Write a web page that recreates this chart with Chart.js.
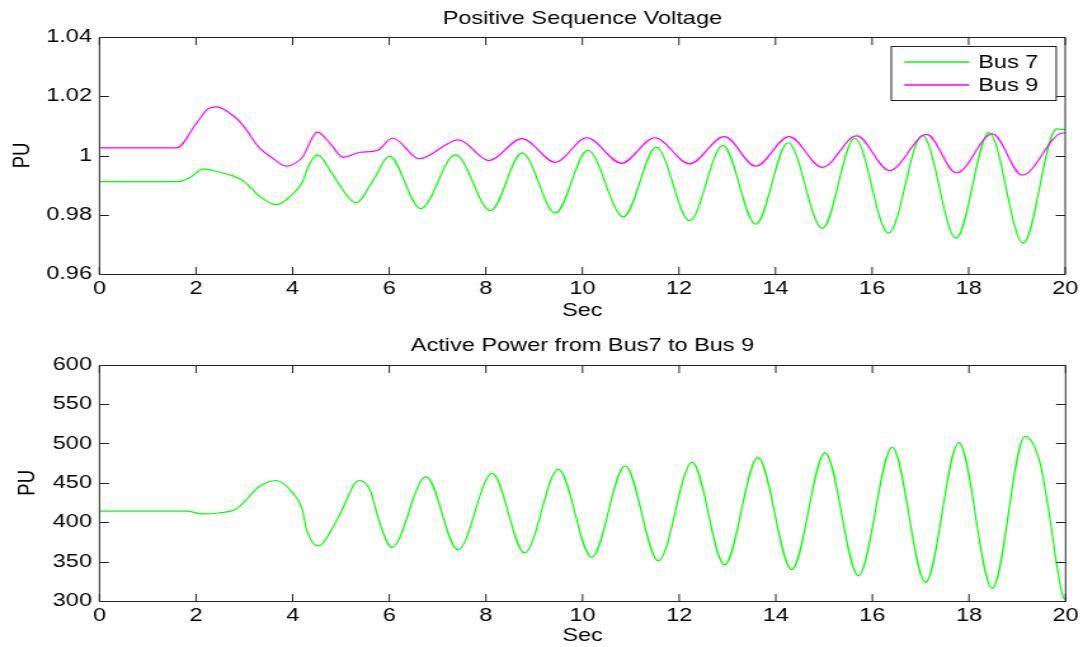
<!DOCTYPE html>
<html>
<head>
<meta charset="utf-8">
<title>Positive Sequence Voltage / Active Power</title>
<script src="https://cdn.jsdelivr.net/npm/chart.js@4.4.1/dist/chart.umd.min.js"></script>
<style>
  html, body { margin: 0; padding: 0; background: #fff; overflow: hidden; }
  #wrap { position: relative; width: 1083px; height: 647px; }
  #wrap canvas { position: absolute; left: 0; }
</style>
</head>
<body>
<div id="wrap">
  <canvas id="voltChart"></canvas>
  <canvas id="powerChart"></canvas>
</div>
<script>
// ----- data (time in s) -----
const secTicks   = [0, 2, 4, 6, 8, 10, 12, 14, 16, 18, 20];
const voltTicks  = [0.96, 0.98, 1, 1.02, 1.04];
const powerTicks = [300, 350, 400, 450, 500, 550, 600];

// Bus 7 voltage (green)
const bus7Time = [0, 1.63, 1.9, 2.15, 2.45, 2.75, 3.0, 3.3, 3.66, 4.0, 4.2, 4.35, 4.52, 4.8, 5.0, 5.31, 5.7, 6.0,
                  6.65, 7.37, 8.1, 8.75, 9.44, 10.11, 10.85, 11.53, 12.22, 12.91, 13.59, 14.26, 14.97, 15.64,
                  16.34, 17.04, 17.74, 18.42, 19.13, 19.82, 20];
const bus7Volt = [0.9912, 0.9912, 0.9928, 0.9955, 0.9945, 0.9932, 0.9912, 0.9864, 0.9834, 0.987, 0.991, 0.9972, 1.0002, 0.9943, 0.9893, 0.984, 0.9926, 0.9998,
                  0.9821, 1.0002, 0.9814, 1.0009, 0.9806, 1.0017, 0.9793, 1.0028, 0.978, 1.0034, 0.9768, 1.0043, 0.9754, 1.0059,
                  0.9738, 1.0068, 0.9721, 1.0077, 0.9704, 1.009, 1.0087];

// Bus 9 voltage (magenta)
const bus9Time = [0, 1.6, 2.0, 2.25, 2.43, 2.8, 3.0, 3.3, 3.6, 3.87, 4.2, 4.51, 4.8, 5.04, 5.4, 5.75, 6.07, 6.62,
                  7.44, 8.06, 8.75, 9.44, 10.09, 10.81, 11.5, 12.22, 12.94, 13.59, 14.28, 14.97, 15.68, 16.36,
                  17.13, 17.75, 18.49, 19.11, 19.95, 20];
const bus9Volt = [1.0026, 1.0026, 1.0107, 1.0158, 1.0164, 1.013, 1.0096, 1.0028, 0.9989, 0.9964, 0.9994, 1.0079, 1.0036, 0.9994, 1.0011, 1.0017, 1.0059, 0.9989,
                  1.0053, 0.9983, 1.0057, 0.9977, 1.006, 0.9974, 1.006, 0.9972, 1.0064, 0.9964, 1.0064, 0.996, 1.0066, 0.9949,
                  1.0071, 0.9941, 1.0073, 0.9934, 1.0076, 1.0076];

// Active power Bus7 -> Bus 9 (green)
const powerTime = [0, 1.8, 2.15, 2.5, 2.8, 3.0, 3.3, 3.66, 4.0, 4.2, 4.28, 4.54, 4.8, 5.0, 5.37, 5.6, 5.8, 6.05,
                   6.76, 7.42, 8.13, 8.8, 9.5, 10.19, 10.88, 11.57, 12.27, 12.94, 13.63, 14.33, 15.02, 15.71,
                   16.41, 17.1, 17.79, 18.48, 19.16, 19.47, 19.67, 19.81, 19.95, 20];
const powerVal  = [414, 414, 410.5, 412, 416, 426, 445, 453, 437, 416, 392, 370, 390, 413, 453, 441, 399, 368,
                   458, 365, 462, 361, 467, 355.5, 471.5, 351, 476, 346, 482, 340, 488, 332,
                   495, 324, 501, 316, 509, 475, 407, 348, 305, 302];

// ----- layout helpers -----
// the original figure is stretched sideways, so draw narrow and widen the canvas with css
const SX = 1.27;
const W = Math.round(1083 / SX);
const px = (v) => v / SX;          // page px (horizontal) -> canvas px
const FONT = 18.5;
const TL = 7.5;                    // inner tick length

Chart.defaults.font.family = '"Liberation Sans", Arial, Helvetica, sans-serif';
Chart.defaults.font.size = FONT;
Chart.defaults.color = '#000';

function setupCanvas(id, top, h) {
  const c = document.getElementById(id);
  c.width = W;
  c.height = h;
  c.style.top = top + 'px';
  c.style.width = '1083px';
  c.style.height = h + 'px';
  return c;
}

const toXY = (xs, ys) => xs.map((x, i) => ({ x, y: ys[i] }));

// matlab style box + inner ticks on all four sides
const frame = {
  id: 'frame',
  afterDraw(chart) {
    const { ctx, chartArea: a, scales } = chart;
    const top = Math.round(a.top) + 0.5;
    const bot = Math.round(a.bottom) + 0.5;
    ctx.save();
    ctx.strokeStyle = '#222';
    ctx.lineWidth = 1;
    ctx.beginPath();
    ctx.rect(a.left, top, a.right - a.left, bot - top);
    scales.x.ticks.forEach((t) => {
      const x = scales.x.getPixelForValue(t.value);
      ctx.moveTo(x, bot); ctx.lineTo(x, bot - TL);
      ctx.moveTo(x, top); ctx.lineTo(x, top + TL);
    });
    scales.y.ticks.forEach((t) => {
      const y = Math.round(scales.y.getPixelForValue(t.value)) + 0.5;
      ctx.moveTo(a.left, y); ctx.lineTo(a.left + TL, y);
      ctx.moveTo(a.right, y); ctx.lineTo(a.right - TL, y);
    });
    ctx.stroke();
    ctx.restore();
  }
};

// boxed legend in the upper right corner of the axes
const boxLegend = {
  id: 'boxLegend',
  afterDraw(chart) {
    const { ctx, chartArea: a } = chart;
    const w = px(165), h = 54;
    const left = a.right - px(9) - w;
    const top = Math.round(a.top + 9) + 0.5;
    ctx.save();
    ctx.fillStyle = '#fff';
    ctx.fillRect(left, top, w, h);
    ctx.strokeStyle = '#222';
    ctx.lineWidth = 1;
    ctx.strokeRect(left, top, w, h);
    ctx.font = FONT + 'px ' + Chart.defaults.font.family;
    ctx.textBaseline = 'middle';
    chart.data.datasets.forEach((ds, i) => {
      const y = Math.round(top + 15.5 + i * 23);
      ctx.strokeStyle = ds.borderColor;
      ctx.lineWidth = 1.6;
      ctx.beginPath();
      ctx.moveTo(left + px(13), y);
      ctx.lineTo(left + px(78), y);
      ctx.stroke();
      ctx.fillStyle = '#000';
      ctx.fillText(ds.label, left + px(87), y + 1);
    });
    ctx.restore();
  }
};

function makeChart(canvas, o) {
  return new Chart(canvas.getContext('2d'), {
    type: 'line',
    data: { datasets: o.datasets },
    options: {
      responsive: false,
      animation: false,
      devicePixelRatio: 1,
      layout: { padding: { left: 0, right: W - px(1069), top: 0, bottom: 0 } },
      elements: { point: { radius: 0 } },
      plugins: {
        legend: { display: false },
        tooltip: { enabled: false },
        title: {
          display: true,
          text: o.title,
          fullSize: false,
          color: '#000',
          font: { size: FONT, weight: 'normal' },
          padding: o.titlePad
        }
      },
      scales: {
        x: {
          type: 'linear',
          min: 0,
          max: 20,
          afterBuildTicks: (s) => { s.ticks = secTicks.map((v) => ({ value: v })); },
          afterFit: (s) => { s.height = o.xAxisH; },
          grid: { display: false, drawTicks: false },
          border: { display: false },
          ticks: { padding: o.xTickPad, maxRotation: 0, autoSkip: false, callback: (v) => String(v) },
          title: { display: true, text: 'Sec', padding: { top: 0, bottom: o.secPad } }
        },
        y: {
          type: 'linear',
          min: o.yTicks[0],
          max: o.yTicks[o.yTicks.length - 1],
          afterBuildTicks: (s) => { s.ticks = o.yTicks.map((v) => ({ value: v })); },
          afterFit: (s) => { s.width = px(99.5); },
          grid: { display: false, drawTicks: false },
          border: { display: false },
          ticks: { padding: px(7.5), autoSkip: false, callback: (v) => String(v) },
          title: { display: true, text: 'PU', padding: { top: o.puPad, bottom: 0 } }
        }
      }
    },
    plugins: o.plugins
  });
}

const lineStyle = (label, color, data, order) => ({
  label,
  data,
  borderColor: color,
  backgroundColor: color,
  borderWidth: 1.2,
  fill: false,
  cubicInterpolationMode: 'monotone',
  order
});

makeChart(setupCanvas('voltChart', 0, 323), {
  title: 'Positive Sequence Voltage',
  titlePad: { top: 8.2, bottom: 6.6 },
  xAxisH: 49,
  xTickPad: 3.7,
  secPad: 0.6,
  puPad: 6.4,
  yTicks: voltTicks,
  datasets: [
    lineStyle('Bus 7', '#00ff00', toXY(bus7Time, bus7Volt), 1),
    lineStyle('Bus 9', '#ff00ff', toXY(bus9Time, bus9Volt), 0)
  ],
  plugins: [frame, boxLegend]
});

makeChart(setupCanvas('powerChart', 323, 324), {
  title: 'Active Power from Bus7 to Bus 9',
  titlePad: { top: 11.9, bottom: 7.6 },
  xAxisH: 46,
  xTickPad: 3.4,
  secPad: 0,
  puPad: 10.8,
  yTicks: powerTicks,
  datasets: [
    lineStyle('Power', '#00ff00', toXY(powerTime, powerVal), 0)
  ],
  plugins: [frame]
});
</script>
</body>
</html>
